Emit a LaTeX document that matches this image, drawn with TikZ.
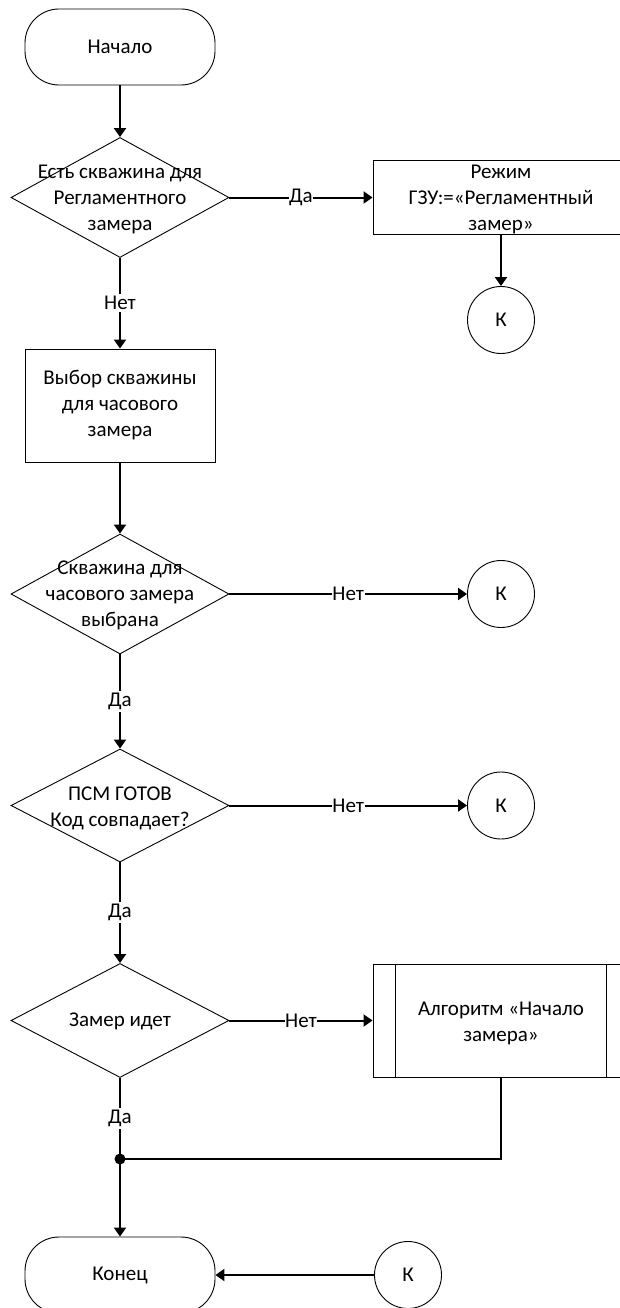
\documentclass[tikz,border=0pt]{standalone}
\usepackage{fontspec}
\setmainfont{Carlito}
\usetikzlibrary{shapes.geometric,arrows.meta}
\begin{document}
\begin{tikzpicture}[x=1pt,y=-1pt,
  font=\fontsize{21}{26}\selectfont,
  shp/.style={draw,line width=0.9pt,inner sep=0pt,align=center},
  term/.style={shp,rectangle,rounded corners=34pt,minimum width=190pt,minimum height=76pt},
  proc/.style={shp,rectangle},
  dec/.style={shp,diamond,minimum width=218pt,minimum height=120pt},
  conn/.style={shp,circle,minimum size=67pt},
  txt/.style={align=center,inner sep=0pt},
  flow/.style={line width=2pt,-{Triangle[length=9pt,width=12pt]}},
  link/.style={line width=2pt},
  lbl/.style={fill=white,inner xsep=0.5pt,inner ysep=2pt}
]
\useasboundingbox (0,0) rectangle (619,1308);

% blocks
\node[term] (start) at (120,47) {Начало};
\node[dec] (d1) at (120,197.5) {};
\node[txt] (d1t) at (120,199) {Есть скважина для\\Регламентного\\замера};
\node[proc,minimum width=256pt,minimum height=74pt] (mode) at (501,197.5) {};
\node[txt] (modet) at (501,199) {Режим\\ГЗУ:=«Регламентный\\замер»};
\node[conn] (k1) at (501,320) {К};

\node[proc,minimum width=190pt,minimum height=113pt] (sel) at (120,405.5) {Выбор скважины\\для часового\\замера};

\node[dec] (d2) at (120,594) {};
\node[txt] (d2t) at (120,595) {Скважина для\\часового замера\\выбрана};
\node[conn] (k2) at (501,594) {К};

\node[dec,minimum height=113pt] (d3) at (120,805.5) {};
\node[txt] (d3t) at (120,808.5) {ПСМ ГОТОВ\\Код совпадает?};
\node[conn] (k3) at (501,805.5) {К};

\node[dec,minimum height=114pt] (d4) at (120,1020.5) {};
\node[txt] (d4t) at (120,1021) {Замер идет};
\node[proc,minimum width=256pt,minimum height=113pt] (alg) at (501,1020.5) {};
\node[txt] (algt) at (501,1023.5) {Алгоритм «Начало\\замера»};
\draw[line width=0.9pt] ([xshift=23pt]alg.north west) -- ([xshift=23pt]alg.south west);
\draw[line width=0.9pt] ([xshift=-23pt]alg.north east) -- ([xshift=-23pt]alg.south east);

\coordinate (jn) at (120,1159);
\node[term] (end) at (120,1275) {Конец};
\node[conn] (k4) at (408,1275) {К};

% connectors
\draw[flow] (start) -- (d1);
\draw[flow] (d1) -- node[lbl]{Да} (mode);
\draw[flow] (mode) -- (k1);
\draw[flow] (d1) -- node[lbl]{Нет} (sel);
\draw[flow] (sel) -- (d2);
\draw[flow] (d2) -- node[lbl]{Нет} (k2);
\draw[flow] (d2) -- node[lbl]{Да} (d3);
\draw[flow] (d3) -- node[lbl]{Нет} (k3);
\draw[flow] (d3) -- node[lbl]{Да} (d4);
\draw[flow] (d4) -- node[lbl]{Нет} (alg);
\draw[link] (d4) -- node[lbl]{Да} (jn);
\draw[link] (alg.south) |- (jn);
\fill (jn) circle (5.5pt);
\draw[flow] (jn) -- (end);
\draw[flow] (k4) -- (end);
\end{tikzpicture}
\end{document}
